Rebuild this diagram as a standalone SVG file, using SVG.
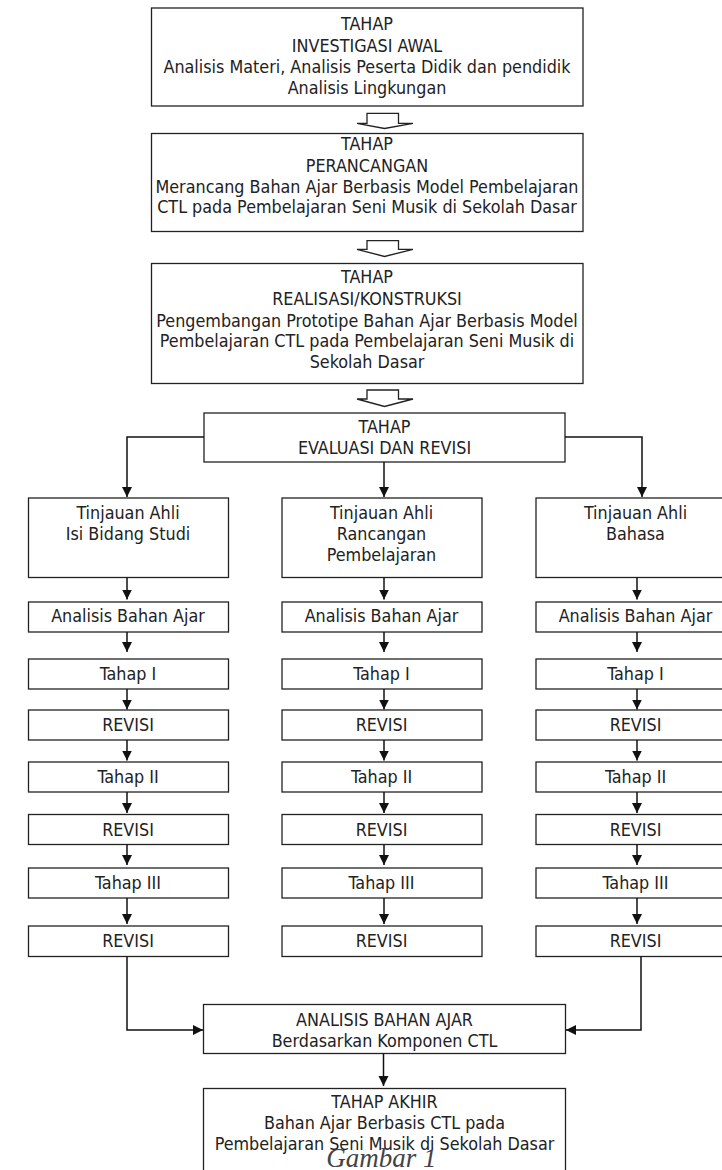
<svg xmlns="http://www.w3.org/2000/svg" width="722" height="1170" viewBox="0 0 722 1170">
<defs>
<style>
.b{fill:#fff;stroke:#222;stroke-width:1.3}
.t{font-family:"DejaVu Sans Condensed","DejaVu Sans",sans-serif;font-size:17.8px;fill:#222;text-anchor:middle}
.c{fill:none;stroke:#111;stroke-width:1.5}
.h{fill:#fff;stroke:#222;stroke-width:1.3}
.cap{font-family:"Liberation Serif",serif;font-style:italic;font-size:27px;fill:#444;text-anchor:middle}
</style>
<marker id="ah" markerUnits="userSpaceOnUse" markerWidth="12" markerHeight="12" viewBox="0 0 12 12" refX="10" refY="5" orient="auto">
<path d="M0,0 L10,5 L0,10 Z" fill="#111"/>
</marker>
</defs>
<rect width="722" height="1170" fill="#fff"/>

<g id="n1"><rect class="b" x="151.5" y="8" width="431.5" height="98"/>
<text class="t" x="367" y="30">TAHAP</text>
<text class="t" x="367" y="51.5">INVESTIGASI AWAL</text>
<text class="t" x="367" y="72.5">Analisis Materi, Analisis Peserta Didik dan pendidik</text>
<text class="t" x="367" y="93.5">Analisis Lingkungan</text></g>

<g id="n2"><rect class="b" x="151.5" y="133.5" width="431.5" height="98"/>
<text class="t" x="367" y="150">TAHAP</text>
<text class="t" x="367" y="171.5">PERANCANGAN</text>
<text class="t" x="367" y="192.5">Merancang Bahan Ajar Berbasis Model Pembelajaran</text>
<text class="t" x="367" y="213.3">CTL pada Pembelajaran Seni Musik di Sekolah Dasar</text></g>

<g id="n3"><rect class="b" x="151.5" y="263.5" width="431.5" height="120"/>
<text class="t" x="367" y="283.3">TAHAP</text>
<text class="t" x="367" y="305">REALISASI/KONSTRUKSI</text>
<text class="t" x="367" y="326.5">Pengembangan Prototipe Bahan Ajar Berbasis Model</text>
<text class="t" x="367" y="347.3">Pembelajaran CTL pada Pembelajaran Seni Musik di</text>
<text class="t" x="367" y="368.3">Sekolah Dasar</text></g>

<g id="n4"><rect class="b" x="204" y="413" width="361" height="49"/>
<text class="t" x="384.5" y="433.3">TAHAP</text>
<text class="t" x="384.5" y="454">EVALUASI DAN REVISI</text></g>

<g id="l0"><rect class="b" x="28.5" y="498" width="200" height="79.5"/>
<text class="t" x="128" y="519.3">Tinjauan Ahli</text>
<text class="t" x="128" y="540">Isi Bidang Studi</text></g>
<g id="m0"><rect class="b" x="282" y="498" width="200" height="79.5"/>
<text class="t" x="381.5" y="519.3">Tinjauan Ahli</text>
<text class="t" x="381.5" y="540">Rancangan</text>
<text class="t" x="381.5" y="561">Pembelajaran</text></g>
<g id="r0"><rect class="b" x="536" y="498" width="200" height="79.5"/>
<text class="t" x="635.5" y="519.3">Tinjauan Ahli</text>
<text class="t" x="635.5" y="540">Bahasa</text></g>

<g id="l1"><rect class="b" x="28.5" y="602" width="200" height="30"/><text class="t" x="128" y="622">Analisis Bahan Ajar</text></g>
<g id="l2"><rect class="b" x="28.5" y="659" width="200" height="30"/><text class="t" x="128" y="680">Tahap I</text></g>
<g id="l3"><rect class="b" x="28.5" y="710" width="200" height="30"/><text class="t" x="128" y="731">REVISI</text></g>
<g id="l4"><rect class="b" x="28.5" y="762" width="200" height="30"/><text class="t" x="128" y="783">Tahap II</text></g>
<g id="l5"><rect class="b" x="28.5" y="814.5" width="200" height="30"/><text class="t" x="128" y="835.5">REVISI</text></g>
<g id="l6"><rect class="b" x="28.5" y="868" width="200" height="30"/><text class="t" x="128" y="889">Tahap III</text></g>
<g id="l7"><rect class="b" x="28.5" y="926" width="200" height="30.5"/><text class="t" x="128" y="947">REVISI</text></g>

<g id="m1"><rect class="b" x="282" y="602" width="200" height="30"/><text class="t" x="381.5" y="622">Analisis Bahan Ajar</text></g>
<g id="m2"><rect class="b" x="282" y="659" width="200" height="30"/><text class="t" x="381.5" y="680">Tahap I</text></g>
<g id="m3"><rect class="b" x="282" y="710" width="200" height="30"/><text class="t" x="381.5" y="731">REVISI</text></g>
<g id="m4"><rect class="b" x="282" y="762" width="200" height="30"/><text class="t" x="381.5" y="783">Tahap II</text></g>
<g id="m5"><rect class="b" x="282" y="814.5" width="200" height="30"/><text class="t" x="381.5" y="835.5">REVISI</text></g>
<g id="m6"><rect class="b" x="282" y="868" width="200" height="30"/><text class="t" x="381.5" y="889">Tahap III</text></g>
<g id="m7"><rect class="b" x="282" y="926" width="200" height="30.5"/><text class="t" x="381.5" y="947">REVISI</text></g>

<g id="r1"><rect class="b" x="536" y="602" width="200" height="30"/><text class="t" x="635.5" y="622">Analisis Bahan Ajar</text></g>
<g id="r2"><rect class="b" x="536" y="659" width="200" height="30"/><text class="t" x="635.5" y="680">Tahap I</text></g>
<g id="r3"><rect class="b" x="536" y="710" width="200" height="30"/><text class="t" x="635.5" y="731">REVISI</text></g>
<g id="r4"><rect class="b" x="536" y="762" width="200" height="30"/><text class="t" x="635.5" y="783">Tahap II</text></g>
<g id="r5"><rect class="b" x="536" y="814.5" width="200" height="30"/><text class="t" x="635.5" y="835.5">REVISI</text></g>
<g id="r6"><rect class="b" x="536" y="868" width="200" height="30"/><text class="t" x="635.5" y="889">Tahap III</text></g>
<g id="r7"><rect class="b" x="536" y="926" width="200" height="30.5"/><text class="t" x="635.5" y="947">REVISI</text></g>

<g id="n5"><rect class="b" x="203.5" y="1004.5" width="362" height="49"/>
<text class="t" x="384.5" y="1026">ANALISIS BAHAN AJAR</text>
<text class="t" x="384.5" y="1046.7">Berdasarkan Komponen CTL</text></g>

<g id="n6"><rect class="b" x="203.5" y="1088.5" width="362" height="100"/>
<text class="t" x="384.5" y="1108.3">TAHAP AKHIR</text>
<text class="t" x="384.5" y="1129.3">Bahan Ajar Berbasis CTL pada</text>
<text class="t" x="384.5" y="1150">Pembelajaran Seni Musik di Sekolah Dasar</text></g>

<g id="connectors">
<path class="h" d="M367,113.3 L398.5,113.3 L398.5,123.3 L413,123.3 L384.5,128.5 L357,123.3 L367,123.3 Z"/>
<path class="h" d="M367,240.7 L398.5,240.7 L398.5,249.3 L413,249.3 L384.5,256.5 L357,249.3 L367,249.3 Z"/>
<path class="h" d="M367,390 L398.5,390 L398.5,399 L413,399 L384.5,406.5 L357,399 L367,399 Z"/>

<path class="c" d="M204,437 H127 V497" marker-end="url(#ah)"/>
<path class="c" d="M384,462 V497" marker-end="url(#ah)"/>
<path class="c" d="M565,437 H642 V497" marker-end="url(#ah)"/>

<path class="c" d="M127,577.5 V599.5" marker-end="url(#ah)"/>
<path class="c" d="M127,632 V652" marker-end="url(#ah)"/>
<path class="c" d="M127,689 V709.5" marker-end="url(#ah)"/>
<path class="c" d="M127,740 V760.5" marker-end="url(#ah)"/>
<path class="c" d="M127,792 V813" marker-end="url(#ah)"/>
<path class="c" d="M127,844.5 V865" marker-end="url(#ah)"/>
<path class="c" d="M127,898 V924" marker-end="url(#ah)"/>

<path class="c" d="M384,577.5 V599.5" marker-end="url(#ah)"/>
<path class="c" d="M384,632 V652" marker-end="url(#ah)"/>
<path class="c" d="M384,689 V709.5" marker-end="url(#ah)"/>
<path class="c" d="M384,740 V760.5" marker-end="url(#ah)"/>
<path class="c" d="M384,792 V813" marker-end="url(#ah)"/>
<path class="c" d="M384,844.5 V865" marker-end="url(#ah)"/>
<path class="c" d="M384,898 V924" marker-end="url(#ah)"/>

<path class="c" d="M637,577.5 V599.5" marker-end="url(#ah)"/>
<path class="c" d="M637,632 V652" marker-end="url(#ah)"/>
<path class="c" d="M637,689 V709.5" marker-end="url(#ah)"/>
<path class="c" d="M637,740 V760.5" marker-end="url(#ah)"/>
<path class="c" d="M637,792 V813" marker-end="url(#ah)"/>
<path class="c" d="M637,844.5 V865" marker-end="url(#ah)"/>
<path class="c" d="M637,898 V924" marker-end="url(#ah)"/>

<path class="c" d="M127,956.5 V1030 H203" marker-end="url(#ah)"/>
<path class="c" d="M641,956.5 V1030 H566" marker-end="url(#ah)"/>
<path class="c" d="M383.5,1053.5 V1086" marker-end="url(#ah)"/>
</g>

<text class="cap" x="381.5" y="1166.5">Gambar 1</text>
</svg>
